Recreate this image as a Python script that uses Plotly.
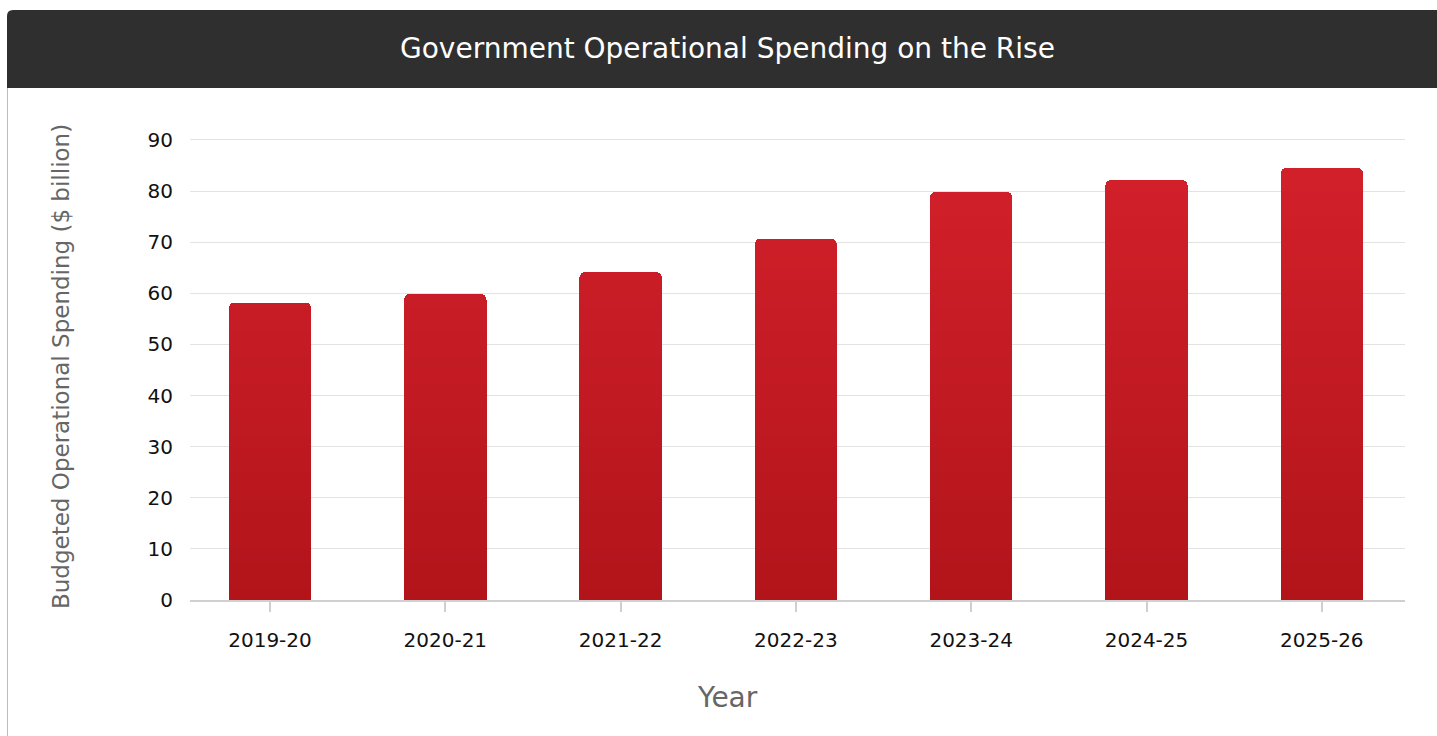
import plotly.graph_objects as go

# Budgeted operational spending by financial year ($ billion)
years = ["2019-20", "2020-21", "2021-22", "2022-23", "2023-24", "2024-25", "2025-26"]
spending = [58.2, 59.9, 64.2, 70.7, 79.9, 82.2, 84.6]
y_ticks = [0, 10, 20, 30, 40, 50, 60, 70, 80, 90]

TITLE = "Government Operational Spending on the Rise"
Y_TITLE = "Budgeted Operational Spending ($ billion)"
X_TITLE = "Year"

W, H = 1437, 736
FONT = "DejaVu Sans"

# vertical colour ramp for the bars: dark red at the base, brighter red towards the top
TOP_RGB = (212, 33, 44)
BASE_RGB = (178, 20, 26)
Y_MAX = 90
N_BANDS = 36


def ramp(t):
    r = [round(b + (a - b) * t) for a, b in zip(TOP_RGB, BASE_RGB)]
    return f"rgb({r[0]},{r[1]},{r[2]})"


def px_x(p):
    return p / W


def px_y(p):
    return 1 - p / H


fig = go.Figure()

band = Y_MAX / N_BANDS
for k in range(N_BANDS):
    lo = k * band
    seg = []
    for v in spending:
        h = min(v - lo, band)
        seg.append(h if h > 0 else None)
    fig.add_trace(go.Bar(
        x=years, y=seg,
        marker=dict(color=ramp((lo + band / 2) / Y_MAX), line=dict(width=0),
                    cornerradius=6),
        hoverinfo="skip",
        showlegend=False,
    ))

# plot area geometry (pixels)
left, right = 190, 1405
y0_px = 600
unit = (y0_px - 140) / 90
cat_w = 175.3
x_lo = -0.5 + (left - (270 - cat_w / 2)) / cat_w
x_hi = x_lo + (right - left) / cat_w

fig.update_layout(
    width=W, height=H,
    margin=dict(l=0, r=0, t=0, b=0, pad=0, autoexpand=False),
    paper_bgcolor="white", plot_bgcolor="white",
    barmode="stack", bargap=0.53,
    font=dict(family=FONT, color="#111"),
    xaxis=dict(
        domain=[px_x(left), px_x(right)],
        range=[x_lo, x_hi],
        showgrid=False, showline=True, linecolor="#d0d0d0", linewidth=2,
        ticks="outside", ticklen=10, tickwidth=2, tickcolor="#cfcfcf",
        tickfont=dict(family=FONT, size=20, color="#111"),
        ticklabelstandoff=11,
        zeroline=False, fixedrange=True, automargin=False,
    ),
    yaxis=dict(
        domain=[px_y(y0_px), px_y(y0_px - 91 * unit)],
        range=[0, 91],
        tickvals=y_ticks,
        showgrid=True, gridcolor="#e3e3e3", gridwidth=1,
        zeroline=False, showline=False, ticks="",
        tickfont=dict(family=FONT, size=20, color="#111"),
        ticklabelstandoff=16,
        fixedrange=True, automargin=False,
    ),
)

# header bar with a rounded top-left corner
x1, x2, yt, yb, r = px_x(7), 1.0, px_y(10), px_y(88), 6
fig.add_shape(
    type="path", xref="paper", yref="paper",
    path=(f"M {x1},{yb} L {x1},{px_y(10 + r)} Q {x1},{yt} {px_x(7 + r)},{yt} "
          f"L {x2},{yt} L {x2},{yb} Z"),
    fillcolor="#2f2f2f", line=dict(width=0), layer="below",
)
# card border on the left
fig.add_shape(
    type="line", xref="paper", yref="paper",
    x0=px_x(7.5), x1=px_x(7.5), y0=px_y(88), y1=0,
    line=dict(color="#bdbdbd", width=1),
)

fig.add_annotation(
    text=TITLE, xref="paper", yref="paper",
    x=px_x(727), y=px_y(49), xanchor="center", yanchor="middle",
    showarrow=False, font=dict(family=FONT, size=28, color="white"),
)
fig.add_annotation(
    text=Y_TITLE, xref="paper", yref="paper",
    x=px_x(61), y=px_y(367), xanchor="center", yanchor="middle",
    textangle=-90, showarrow=False,
    font=dict(family=FONT, size=23, color="#666"),
)
fig.add_annotation(
    text=X_TITLE, xref="paper", yref="paper",
    x=px_x(727), y=px_y(697), xanchor="center", yanchor="middle",
    showarrow=False, font=dict(family=FONT, size=28, color="#666"),
)

fig.write_html("out.html")
